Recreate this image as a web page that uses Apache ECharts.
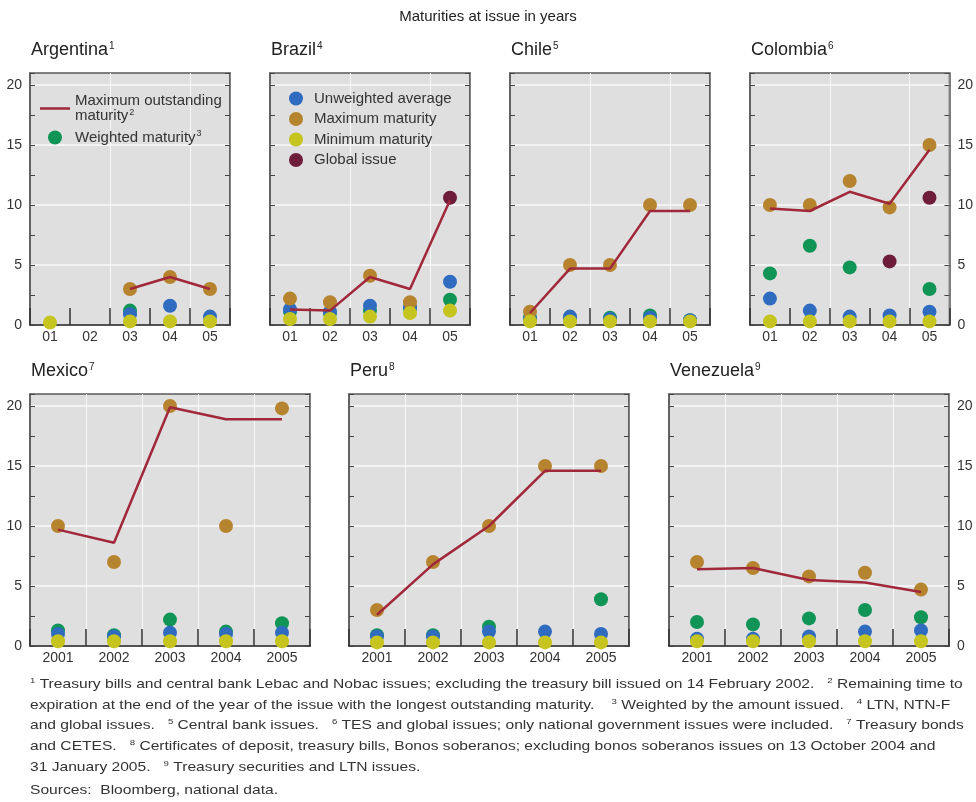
<!DOCTYPE html>
<html>
<head>
<meta charset="utf-8">
<script src="https://cdn.jsdelivr.net/npm/echarts@6/dist/echarts.min.js"></script>
<style>
  html, body { margin: 0; padding: 0; background: #fff; }
  #main { width: 976px; height: 802px; }
</style>
</head>
<body>
<div id="main"></div>
<script>
// categories
const yearsShort = ['01', '02', '03', '04', '05'];
const yearsLong = ['2001', '2002', '2003', '2004', '2005'];

// Argentina
const argMaxOutstanding = [null, null, 3, 4, 3];
const argWeighted = [null, null, 1.2, null, null];
const argUnweighted = [null, null, 0.9, 1.6, 0.7];
const argMaxMaturity = [null, null, 3, 4, 3];
const argMinMaturity = [0.2, null, 0.3, 0.3, 0.3];

// Brazil
const braMaxOutstanding = [1.3, 1.2, 4.0, 3.0, 10.4];
const braWeighted = [1.1, 1.0, 1.2, 1.4, 2.1];
const braUnweighted = [1.3, 1.1, 1.6, 1.5, 3.6];
const braMaxMaturity = [2.2, 1.9, 4.1, 1.9, null];
const braMinMaturity = [0.5, 0.5, 0.7, 1.0, 1.2];
const braGlobal = [null, null, null, null, 10.6];

// Chile
const chiMaxOutstanding = [1.0, 4.7, 4.7, 9.5, 9.5];
const chiWeighted = [0.6, 0.6, 0.6, 0.8, 0.4];
const chiUnweighted = [0.5, 0.7, 0.5, 0.6, 0.4];
const chiMaxMaturity = [1.1, 5, 5, 10, 10];
const chiMinMaturity = [0.3, 0.3, 0.3, 0.3, 0.3];

// Colombia
const colMaxOutstanding = [9.7, 9.5, 11.1, 10.1, 14.6];
const colWeighted = [4.3, 6.6, 4.8, null, 3.0];
const colUnweighted = [2.2, 1.2, 0.7, 0.8, 1.1];
const colMaxMaturity = [10, 10, 12, 9.8, 15];
const colMinMaturity = [0.3, 0.3, 0.3, 0.3, 0.3];
const colGlobal = [null, null, null, 5.3, 10.6];

// Mexico
const mexMaxOutstanding = [9.7, 8.6, 19.9, 18.9, 18.9];
const mexWeighted = [1.3, 0.9, 2.2, 1.2, 1.9];
const mexUnweighted = [1.0, 0.8, 1.1, 1.0, 1.1];
const mexMaxMaturity = [10, 7, 20, 10, 19.8];
const mexMinMaturity = [0.4, 0.4, 0.4, 0.4, 0.4];

// Peru
const perMaxOutstanding = [2.6, 6.8, 10.0, 14.6, 14.6];
const perWeighted = [0.9, 0.9, 1.6, null, 3.9];
const perUnweighted = [0.8, 0.8, 1.2, 1.2, 1.0];
const perMaxMaturity = [3, 7, 10, 15, 15];
const perMinMaturity = [0.3, 0.3, 0.3, 0.3, 0.3];

// Venezuela
const venMaxOutstanding = [6.4, 6.5, 5.5, 5.3, 4.5];
const venWeighted = [2.0, 1.8, 2.3, 3.0, 2.4];
const venUnweighted = [0.6, 0.6, 0.8, 1.2, 1.3];
const venMaxMaturity = [7, 6.5, 5.8, 6.1, 4.7];
const venMinMaturity = [0.4, 0.4, 0.4, 0.4, 0.4];

const yTickLabels = [0, 5, 10, 15, 20];

const FONT = '"Liberation Sans", Arial, sans-serif';
const C_LINE = '#a0283a';
const C_GREEN = '#109557';
const C_BLUE = '#2f6cc0';
const C_ORANGE = '#b6842f';
const C_YELLOW = '#c6c41e';
const C_MAROON = '#6d1c3a';

const panels = [
  { title: 'Argentina', note: '1', cats: yearsShort, left: 30, top: 73, width: 200, labels: 'left', vlines: [2, 4],
    maxOut: argMaxOutstanding, weighted: argWeighted, unweighted: argUnweighted, maxMat: argMaxMaturity, minMat: argMinMaturity, global: null },
  { title: 'Brazil', note: '4', cats: yearsShort, left: 270, top: 73, width: 200, labels: null, vlines: [2, 4],
    maxOut: braMaxOutstanding, weighted: braWeighted, unweighted: braUnweighted, maxMat: braMaxMaturity, minMat: braMinMaturity, global: braGlobal },
  { title: 'Chile', note: '5', cats: yearsShort, left: 510, top: 73, width: 200, labels: null, vlines: [2, 4],
    maxOut: chiMaxOutstanding, weighted: chiWeighted, unweighted: chiUnweighted, maxMat: chiMaxMaturity, minMat: chiMinMaturity, global: null },
  { title: 'Colombia', note: '6', cats: yearsShort, left: 750, top: 73, width: 200, labels: 'right', vlines: [2, 4],
    maxOut: colMaxOutstanding, weighted: colWeighted, unweighted: colUnweighted, maxMat: colMaxMaturity, minMat: colMinMaturity, global: colGlobal },
  { title: 'Mexico', note: '7', cats: yearsLong, left: 30, top: 394, width: 280, labels: 'left', vlines: [1, 2, 3, 4],
    maxOut: mexMaxOutstanding, weighted: mexWeighted, unweighted: mexUnweighted, maxMat: mexMaxMaturity, minMat: mexMinMaturity, global: null },
  { title: 'Peru', note: '8', cats: yearsLong, left: 349, top: 394, width: 280, labels: null, vlines: [1, 2, 3, 4],
    maxOut: perMaxOutstanding, weighted: perWeighted, unweighted: perUnweighted, maxMat: perMaxMaturity, minMat: perMinMaturity, global: null },
  { title: 'Venezuela', note: '9', cats: yearsLong, left: 669, top: 394, width: 280, labels: 'right', vlines: [1, 2, 3, 4],
    maxOut: venMaxOutstanding, weighted: venWeighted, unweighted: venUnweighted, maxMat: venMaxMaturity, minMat: venMinMaturity, global: null }
];

const supRich = { sup: { fontSize: 10, verticalAlign: 'top', padding: [0, 0, 8, 1], fontFamily: FONT, color: '#222' } };

let grids = [], xAxes = [], yAxes = [], series = [], titles = [];

panels.forEach((p, i) => {
  grids.push({
    left: p.left, top: p.top, width: p.width, height: 252,
    show: true, backgroundColor: '#dfdfdf', borderColor: '#5a5a5a', borderWidth: 1.5
  });
  titles.push({
    text: p.title + '{sup|' + p.note + '}',
    left: p.left - 4, top: p.top - 37,
    textStyle: { fontFamily: FONT, fontSize: 18, fontWeight: 'normal', color: '#222', rich: supRich }
  });
  xAxes.push({
    type: 'category', gridIndex: i, data: p.cats, boundaryGap: true,
    axisLine: { lineStyle: { color: '#444', width: 1.5 } },
    axisTick: { show: true, inside: true, length: 17, lineStyle: { color: '#333', width: 1.5 } },
    axisLabel: { color: '#333', fontFamily: FONT, fontSize: 14, margin: 5 },
    splitLine: { show: true, interval: (idx) => p.vlines.indexOf(idx) >= 0, lineStyle: { color: '#fafafa', width: 1 } }
  });
  const labelFmt = (v) => yTickLabels.indexOf(v) >= 0 ? String(v) : '';
  // grid lines at 5s
  yAxes.push({
    type: 'value', gridIndex: i, min: 0, max: 21, interval: 5, position: 'left',
    axisLine: { show: true, lineStyle: { color: '#5a5a5a', width: 1.5 } },
    axisTick: { show: false },
    axisLabel: { show: p.labels === 'left', formatter: labelFmt, color: '#333', fontFamily: FONT, fontSize: 14, margin: 8 },
    splitLine: { show: true, showMaxLine: false, showMinLine: false, lineStyle: { color: '#fafafa', width: 1.5 } }
  });
  // left ticks every 2.5
  yAxes.push({
    type: 'value', gridIndex: i, min: 0, max: 21, interval: 2.5, position: 'left',
    axisLine: { show: false }, axisLabel: { show: false }, splitLine: { show: false },
    axisTick: { show: true, inside: true, length: 5, lineStyle: { color: '#444' } }
  });
  // right border, ticks, labels
  yAxes.push({
    type: 'value', gridIndex: i, min: 0, max: 21, interval: 2.5, position: 'right',
    axisLine: { show: true, lineStyle: { color: '#5a5a5a', width: 1.5 } },
    axisTick: { show: true, inside: true, length: 5, lineStyle: { color: '#444' } },
    axisLabel: { show: p.labels === 'right', formatter: labelFmt, color: '#333', fontFamily: FONT, fontSize: 14, margin: 8 },
    splitLine: { show: false }
  });
  const yIdx = i * 3;
  const dot = (name, color, data, z) => ({
    name, type: 'scatter', xAxisIndex: i, yAxisIndex: yIdx, data,
    symbol: 'circle', symbolSize: 14, z,
    itemStyle: { color, opacity: 1 }, emphasis: { disabled: true }
  });
  series.push(dot('Weighted maturity', C_GREEN, p.weighted, 2));
  series.push(dot('Unweighted average', C_BLUE, p.unweighted, 3));
  series.push(dot('Maximum maturity', C_ORANGE, p.maxMat, 3));
  series.push(dot('Minimum maturity', C_YELLOW, p.minMat, 4));
  if (p.global) series.push(dot('Global issue', C_MAROON, p.global, 4));
  series.push({
    name: 'Maximum outstanding maturity', type: 'line', xAxisIndex: i, yAxisIndex: yIdx,
    data: p.maxOut, symbol: 'none', z: 5, connectNulls: false,
    lineStyle: { color: C_LINE, width: 2.5 }, itemStyle: { color: C_LINE }
  });
});

const legendText = { fontFamily: FONT, fontSize: 15, color: '#333', rich: { sup: { fontSize: 9, verticalAlign: 'top', padding: [0, 0, 7, 1], color: '#333', fontFamily: FONT } } };

const footLines = [
  '{s|1} Treasury bills and central bank Lebac and Nobac issues; excluding the treasury bill issued on 14 February 2002.   {s|2} Remaining time to',
  'expiration at the end of the year of the issue with the longest outstanding maturity.    {s|3} Weighted by the amount issued.   {s|4} LTN, NTN-F',
  'and global issues.   {s|5} Central bank issues.   {s|6} TES and global issues; only national government issues were included.   {s|7} Treasury bonds',
  'and CETES.   {s|8} Certificates of deposit, treasury bills, Bonos soberanos; excluding bonos soberanos issues on 13 October 2004 and',
  '31 January 2005.   {s|9} Treasury securities and LTN issues.',
  'Sources:  Bloomberg, national data.'
];
const footY = [677, 698, 718, 739, 760, 784];

const graphics = footLines.map((t, k) => ({
  type: 'text', x: 30, y: footY[k], scaleX: 1.2, originX: 0, originY: 0,
  style: {
    x: 0, y: 0, verticalAlign: 'top',
    text: t, fill: '#333', font: '13px ' + FONT,
    rich: { s: { fontSize: 8, verticalAlign: 'top', padding: [0, 0, 6, 0], fill: '#333', fontFamily: FONT } }
  }
}));

const option = {
  backgroundColor: '#fff',
  animation: false,
  title: [{
    text: 'Maturities at issue in years', left: 'center', top: 4,
    textStyle: { fontFamily: FONT, fontSize: 15, fontWeight: 'normal', color: '#222' }
  }].concat(titles),
  legend: [
    {
      data: [
        { name: 'Maximum outstanding maturity', icon: 'path://M0,0 L30,0 L30,2.5 L0,2.5 Z' },
        'Weighted maturity'
      ],
      orient: 'vertical', left: 35, top: 88, itemWidth: 30, itemHeight: 14, itemGap: 6,
      selectedMode: false, textStyle: legendText,
      formatter: (n) => n === 'Weighted maturity' ? 'Weighted maturity{sup|3}' : 'Maximum outstanding\nmaturity{sup|2}'
    },
    {
      data: ['Unweighted average', 'Maximum maturity', 'Minimum maturity', 'Global issue'],
      orient: 'vertical', left: 284, top: 86, itemWidth: 26, itemHeight: 14, itemGap: 5.5,
      selectedMode: false, textStyle: legendText
    }
  ],
  grid: grids,
  xAxis: xAxes,
  yAxis: yAxes,
  series: series,
  graphic: graphics
};

const chart = echarts.init(document.getElementById('main'), null, { renderer: 'canvas' });
chart.setOption(option);
</script>
</body>
</html>
